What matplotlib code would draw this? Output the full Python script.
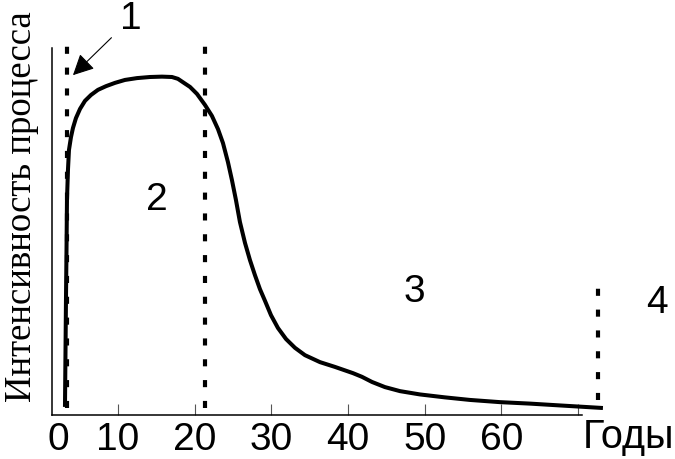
import matplotlib
matplotlib.use('Agg')
from matplotlib import pyplot as plt

# кривая интенсивности процесса (годы, условные единицы 0..100)
years = [3.09, 3.16, 3.22, 3.29, 3.35, 3.48, 3.61, 3.87, 4.13, 4.52, 5.05, 5.70, 6.48,
         7.39, 8.44, 9.61, 10.91, 12.48, 14.17, 15.73, 17.04, 17.82, 18.6, 19.39, 20.3,
         21.34, 22.25, 23.04, 23.69, 24.34, 24.86, 25.38, 25.9, 26.56, 27.21, 27.86,
         28.51, 29.17, 29.95, 30.86, 31.91, 33.08, 34.38, 36.34, 38.29, 40.64, 41.81,
         43.12, 44.81, 46.77, 49.37, 52.63, 55.89, 59.8, 63.71, 67.63, 73.23]
intensity = [2.2, 17.7, 31.3, 45.0, 58.6, 66.8, 72.2, 75.7, 78.2, 80.9, 83.4, 85.6, 87.2,
             88.6, 89.6, 90.5, 91.3, 91.8, 92.1, 92.2, 92.1, 91.6, 90.5, 89.4, 87.5,
             84.5, 81.5, 77.9, 74.1, 68.9, 64.0, 58.6, 52.6, 46.9, 42.2, 38.1,
             34.3, 31.1, 27.2, 23.7, 20.7, 18.3, 16.3, 14.4, 13.1, 11.4, 10.4,
             9.0, 7.6, 6.5, 5.6, 4.8, 4.1, 3.5, 3.1, 2.6, 1.9]

# границы стадий: (год, низ, верх)
borders = [(3.35, 1.9, 101.6), (21.34, 1.9, 101.6), (72.6, 4.1, 35.4)]

tick_pos = [10, 20, 30, 40, 50, 60, 70]
tick_labels = ['10', '20', '30', '40', '50', '60', '']

stage_labels = ['2', '3', '4']
stage_x = [15.1, 48.7, 80.3]
stage_y = [58.6, 33.5, 30.5]

fig = plt.figure(figsize=(6.75, 4.59), dpi=100)
ax = fig.add_axes([0.077, 0.0959, 0.7852, 0.7995])

ax.plot(years, intensity, color='black', lw=2.9, solid_capstyle='butt',
        solid_joinstyle='round', clip_on=False)

for x, y0, y1 in borders:
    ax.plot([x, x], [y0, y1], color='black', lw=3, dashes=(1.7, 3.3),
            dash_capstyle='butt', clip_on=False)

ax.set_xlim(1.395, 70.5)
ax.set_ylim(0, 100)

for s in ['top', 'right']:
    ax.spines[s].set_visible(False)
for s in ['left', 'bottom']:
    ax.spines[s].set_linewidth(1.1)

ax.set_yticks([])
ax.set_xticks(tick_pos)
ax.set_xticklabels(tick_labels)
ax.set_xticks([2.18], ['0'], minor=True)
ax.tick_params(axis='x', which='major', direction='in', length=8, width=0.8,
               color='#555555', pad=5)
ax.tick_params(axis='x', which='minor', length=0, pad=5)
for lab in ax.get_xticklabels(which='both'):
    lab.set_fontfamily('Liberation Sans')
    lab.set_fontsize(28)

fig.text(583 / 675, 1 - 437 / 459, 'Годы', family='Liberation Sans', fontsize=28.5,
         ha='left', va='center')
fig.text(22 / 675, 1 - 207 / 459, 'Интенсивность процесса', family='Liberation Serif',
         fontsize=26.5, rotation=90, ha='center', va='center')

for t, x, y in zip(stage_labels, stage_x, stage_y):
    ax.text(x, y, t, family='Liberation Sans', fontsize=28, ha='center', va='center',
            clip_on=False)

ax.annotate('1', xy=(4.13, 92.6), xytext=(11.7, 108.0), family='Liberation Sans',
            fontsize=28, ha='center', va='center', annotation_clip=False,
            arrowprops=dict(arrowstyle='-|>', color='black', lw=0.8, mutation_scale=32,
                            shrinkA=6, shrinkB=0))

fig.savefig('out.png', dpi=100)
